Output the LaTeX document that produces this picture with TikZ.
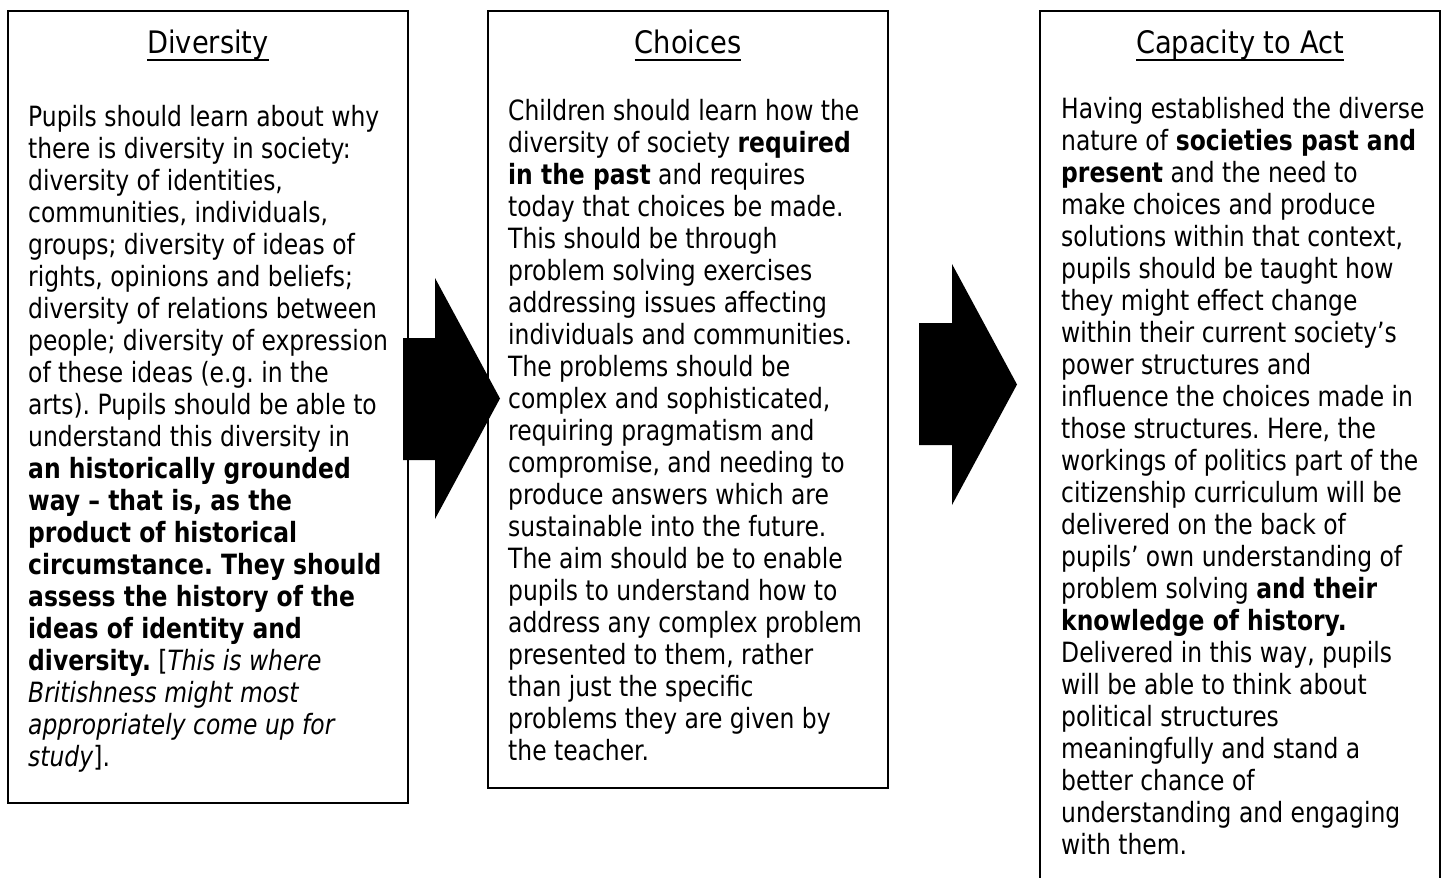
\documentclass[tikz,border=0pt]{standalone}
\usepackage{fontspec}
\setmainfont{DejaVu Sans}[FakeStretch=0.88,BoldFont={DejaVu Sans Bold},ItalicFont={DejaVu Sans Oblique},BoldItalicFont={DejaVu Sans Bold Oblique}]
\newfontfamily\bodyfam{DejaVu Sans}[FakeStretch=0.84,BoldFont={DejaVu Sans Bold},ItalicFont={DejaVu Sans Oblique},BoldItalicFont={DejaVu Sans Bold Oblique}]
\newcommand\ttlul[1]{\setbox0\hbox{#1}\rlap{\vrule height -5.5pt depth 7.5pt width \wd0}\box0}
\frenchspacing
\tikzset{
  box/.style={draw=black, line width=1.5pt, anchor=north west, inner sep=0pt, outer sep=0pt, minimum width=400pt},
  ttl/.style={anchor=base, inner sep=0pt, font=\fontsize{31}{36}\selectfont},
  body/.style={anchor=north west, inner sep=0pt, align=left, font=\bodyfam\fontsize{27.9}{32}\selectfont},
  bigarrow/.style={fill=black, draw=none}
}
\begin{document}
\begin{tikzpicture}[x=1pt,y=-1pt]
\useasboundingbox (0,0) rectangle (1446,878);
\fill[white] (0,0) rectangle (1446,878);
\clip (0,0) rectangle (1446,878);
% boxes
\node[box, minimum height=792pt] (b1) at (8,11) {};
\node[box, minimum height=777pt] (b2) at (488,11) {};
\node[box, minimum height=900pt] (b3) at (1040,11) {};
% titles
\node[ttl] (t1) at (208,53) {\ttlul{Diversity}};
\node[ttl] (t2) at (688,53) {\ttlul{Choices}};
\node[ttl] (t3) at (1240,53) {\ttlul{Capacity to Act}};
% bodies
\node[body] (x1) at (28,102.7) {\rule{0pt}{24pt}Pupils should learn about why\\
there is diversity in society:\\
diversity of identities,\\
communities, individuals,\\
groups; diversity of ideas of\\
rights, opinions and beliefs;\\
diversity of relations between\\
people; diversity of expression\\
of these ideas (e.g. in the\\
arts). Pupils should be able to\\
understand this diversity in\\
\textbf{an historically grounded}\\
\textbf{way – that is, as the}\\
\textbf{product of historical}\\
\textbf{circumstance. They should}\\
\textbf{assess the history of the}\\
\textbf{ideas of identity and}\\
\textbf{diversity.} [\textit{This is where}\\
\textit{Britishness might most}\\
\textit{appropriately come up for}\\
\textit{study}].};
\node[body] (x2) at (508,96) {\rule{0pt}{24pt}Children should learn how the\\
diversity of society \textbf{required}\\
\textbf{in the past} and requires\\
today that choices be made.\\
This should be through\\
problem solving exercises\\
addressing issues affecting\\
individuals and communities.\\
The problems should be\\
complex and sophisticated,\\
requiring pragmatism and\\
compromise, and needing to\\
produce answers which are\\
sustainable into the future.\\
The aim should be to enable\\
pupils to understand how to\\
address any complex problem\\
presented to them, rather\\
than just the specific\\
problems they are given by\\
the teacher.};
\node[body] (x3) at (1061,94.3) {\rule{0pt}{24pt}Having established the diverse\\
nature of \textbf{societies past and}\\
\textbf{present} and the need to\\
make choices and produce\\
solutions within that context,\\
pupils should be taught how\\
they might effect change\\
within their current society’s\\
power structures and\\
influence the choices made in\\
those structures. Here, the\\
workings of politics part of the\\
citizenship curriculum will be\\
delivered on the back of\\
pupils’ own understanding of\\
problem solving \textbf{and their}\\
\textbf{knowledge of history.}\\
Delivered in this way, pupils\\
will be able to think about\\
political structures\\
meaningfully and stand a\\
better chance of\\
understanding and engaging\\
with them.};
% arrows
\fill[bigarrow] (403,338) -- (435,338) -- (435,278) -- (500,398.5) -- (435,519) -- (435,460) -- (403,460) -- cycle;
\fill[bigarrow] (919,323) -- (952,323) -- (952,264) -- (1017,384.5) -- (952,505) -- (952,445) -- (919,445) -- cycle;
\end{tikzpicture}
\end{document}
